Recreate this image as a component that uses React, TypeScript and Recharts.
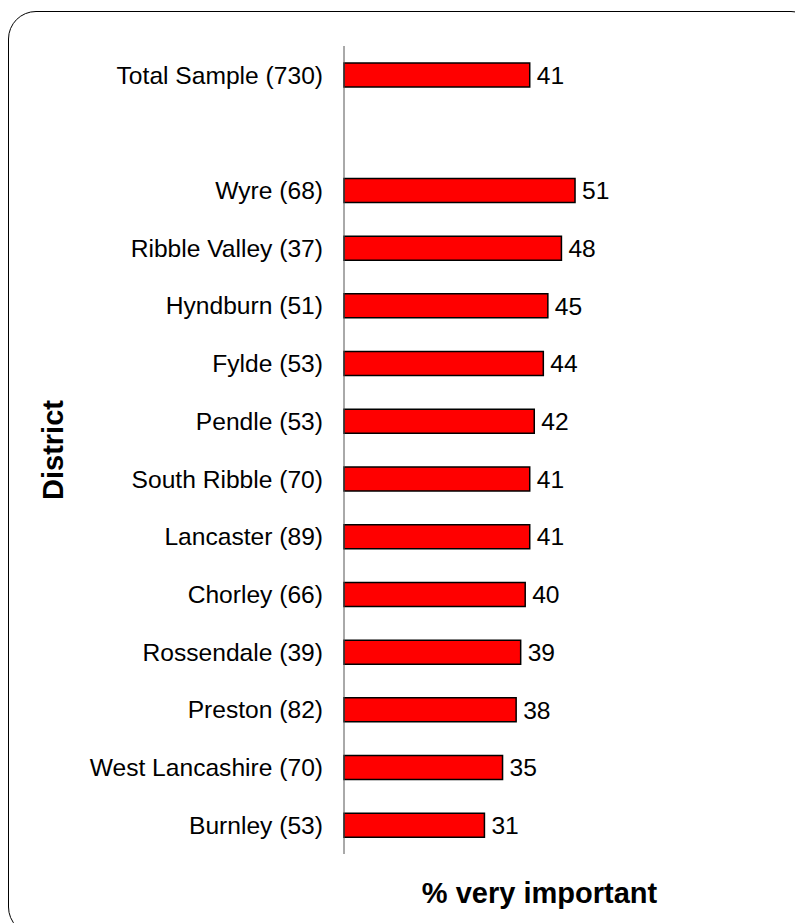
import { BarChart, Bar, XAxis, YAxis, LabelList, Label } from "recharts";

// districts in display order, blank row separates the total
const districts = [
  "Total Sample (730)",
  "",
  "Wyre (68)",
  "Ribble Valley (37)",
  "Hyndburn (51)",
  "Fylde (53)",
  "Pendle (53)",
  "South Ribble (70)",
  "Lancaster (89)",
  "Chorley (66)",
  "Rossendale (39)",
  "Preston (82)",
  "West Lancashire (70)",
  "Burnley (53)",
];

const veryImportant = [41, null, 51, 48, 45, 44, 42, 41, 41, 40, 39, 38, 35, 31];

const data = districts.map((name, i) => ({ name, value: veryImportant[i] }));

const FONT = "'Liberation Sans', Arial, sans-serif";

export default function App() {
  return (
    <div
      style={{
        position: "relative",
        width: 803,
        height: 923,
        margin: "-8px 0 0 -8px",
        overflow: "hidden",
        background: "#fff",
        fontFamily: FONT,
      }}
    >
      <div
        style={{
          position: "absolute",
          left: 8,
          top: 11,
          width: 809,
          height: 922,
          border: "1.5px solid #000",
          borderRadius: 28,
        }}
      />
      <div style={{ position: "absolute", left: 0, top: 0 }}>
        <BarChart
          width={803}
          height={923}
          data={data}
          layout="vertical"
          margin={{ top: 46, right: 6, bottom: 0, left: 0 }}
        >
          <XAxis
            type="number"
            domain={[0, 100]}
            height={69}
            axisLine={false}
            tickLine={false}
            tick={false}
          >
            <Label
              value="% very important"
              position="insideBottom"
              offset={20}
              dx={-31}
              fill="#000"
              fontSize={29}
              fontWeight="bold"
              fontFamily={FONT}
            />
          </XAxis>
          <YAxis
            type="category"
            dataKey="name"
            width={344}
            axisLine={{ stroke: "#555", strokeWidth: 1 }}
            tickLine={false}
            tickSize={0}
            tickMargin={21}
            interval={0}
            tick={{ fill: "#000", fontSize: 24.6, fontFamily: FONT }}
          >
            <Label
              content={(props: any) => {
                const vb = props.viewBox || {};
                const cx = 53;
                const cy = vb.y + vb.height / 2;
                return (
                  <text
                    x={cx}
                    y={cy}
                    transform={`rotate(-90 ${cx} ${cy})`}
                    textAnchor="middle"
                    dominantBaseline="central"
                    fill="#000"
                    fontSize={29}
                    fontWeight="bold"
                    fontFamily={FONT}
                  >
                    District
                  </text>
                );
              }}
            />
          </YAxis>
          <Bar
            dataKey="value"
            fill="#FF0000"
            stroke="#000"
            strokeWidth={1.5}
            barSize={24}
            isAnimationActive={false}
          >
            <LabelList
              dataKey="value"
              position="right"
              offset={7}
              fill="#000"
              fontSize={24.6}
              fontFamily={FONT}
            />
          </Bar>
        </BarChart>
      </div>
    </div>
  );
}
